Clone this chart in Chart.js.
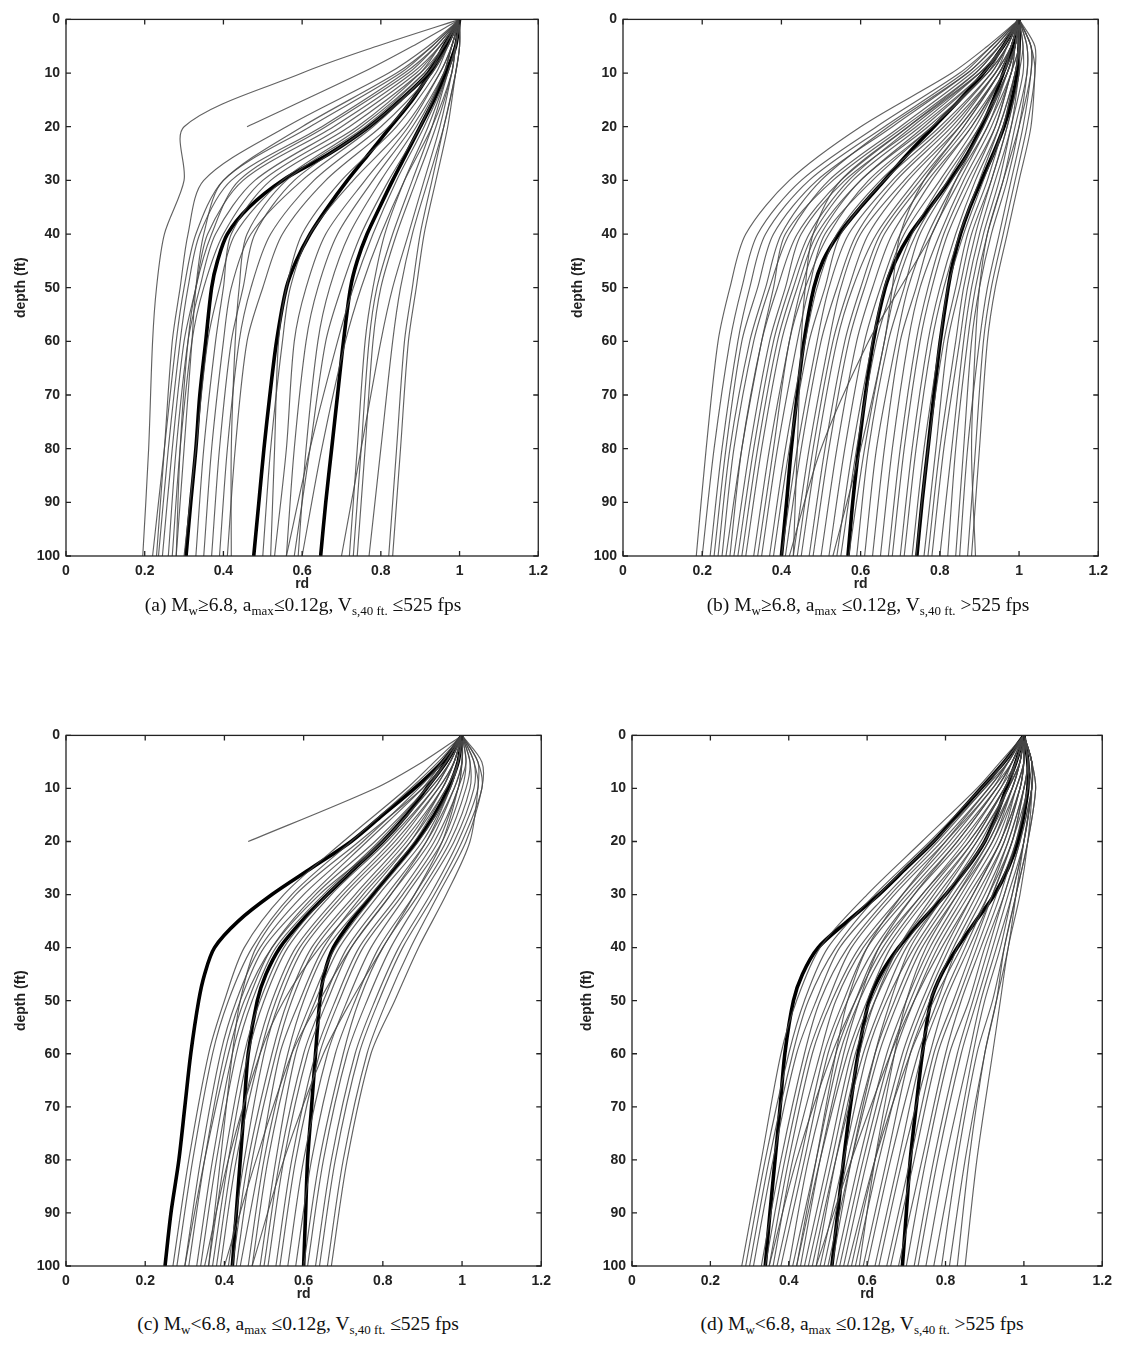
<!DOCTYPE html>
<html lang="en">
<head>
<meta charset="UTF-8">
<title>rd versus depth</title>
<script src="https://cdn.jsdelivr.net/npm/chart.js"></script>
<style>
  body { margin: 0; background: #fff; width: 1122px; height: 1350px; position: relative; overflow: hidden; }
  canvas { position: absolute; }
  .caption { position: absolute; font-family: "Liberation Serif", "Times New Roman", serif; font-size: 19.5px; color: #111;
             white-space: nowrap; transform: translateX(-50%); }
  .caption sub { font-size: 13px; vertical-align: -4px; line-height: 0; }
</style>
</head>
<body>
<canvas id="chartA"></canvas>
<canvas id="chartB"></canvas>
<canvas id="chartC"></canvas>
<canvas id="chartD"></canvas>
<div class="caption" style="left:303px; top:594px">(a) M<sub>w</sub>≥6.8, a<sub>max</sub>≤0.12g, V<sub>s,40 ft.</sub> ≤525 fps</div>
<div class="caption" style="left:868px; top:594px">(b) M<sub>w</sub>≥6.8, a<sub>max</sub> ≤0.12g, V<sub>s,40 ft.</sub> &gt;525 fps</div>
<div class="caption" style="left:298px; top:1313px">(c) M<sub>w</sub>&lt;6.8, a<sub>max</sub> ≤0.12g, V<sub>s,40 ft.</sub> ≤525 fps</div>
<div class="caption" style="left:862px; top:1313px">(d) M<sub>w</sub>&lt;6.8, a<sub>max</sub> ≤0.12g, V<sub>s,40 ft.</sub> &gt;525 fps</div>
<script>
// depth grids (ft) for the summary curves and for the individual site records
const depthFine = [0, 5, 10, 15, 20, 25, 30, 35, 40, 45, 50, 60, 70, 80, 90, 100];
const depthCoarse = [0, 5, 10, 20, 30, 40, 50, 60, 80, 100];

const rdTickValues = [0, 0.2, 0.4, 0.6, 0.8, 1, 1.2];
const rdTickLabels = ['0', '0.2', '0.4', '0.6', '0.8', '1', '1.2'];
const depthTickValues = [0, 10, 20, 30, 40, 50, 60, 70, 80, 90, 100];
const depthTickLabels = ['0', '10', '20', '30', '40', '50', '60', '70', '80', '90', '100'];

// ---- (a) Mw>=6.8, Vs,40ft <= 525 fps ----
const lowerA = [1, 0.96, 0.92, 0.85, 0.77, 0.67, 0.55, 0.465, 0.41, 0.385, 0.37, 0.355, 0.34, 0.33, 0.317, 0.305];
const meanA  = [1, 0.965, 0.925, 0.88, 0.825, 0.77, 0.715, 0.665, 0.62, 0.585, 0.56, 0.535, 0.518, 0.503, 0.49, 0.477];
const upperA = [1, 0.99, 0.965, 0.935, 0.9, 0.865, 0.83, 0.797, 0.765, 0.74, 0.723, 0.705, 0.69, 0.675, 0.66, 0.647];
const recordsA = [
  [1, 0.79, 0.6, 0.3, 0.3, 0.25, 0.23, 0.22, 0.21, 0.195],
  [1, 0.88, 0.75, 0.46, null, null, null, null, null, null],
  [1, 0.93, 0.84, 0.6, 0.4, 0.33, 0.3, 0.28, 0.25, 0.22],
  [1, 0.94, 0.86, 0.65, 0.42, 0.34, 0.31, 0.29, 0.26, 0.235],
  [1, 0.95, 0.88, 0.68, 0.45, 0.36, 0.33, 0.3, 0.27, 0.245],
  [1, 0.92, 0.82, 0.56, 0.35, 0.31, 0.29, 0.27, 0.25, 0.23],
  [1, 0.95, 0.89, 0.7, 0.48, 0.38, 0.34, 0.31, 0.28, 0.26],
  [1, 0.96, 0.9, 0.72, 0.5, 0.4, 0.35, 0.32, 0.29, 0.27],
  [1, 0.94, 0.87, 0.66, 0.44, 0.37, 0.33, 0.31, 0.29, 0.28],
  [1, 0.93, 0.85, 0.62, 0.4, 0.35, 0.33, 0.32, 0.3, 0.28],
  [1, 0.96, 0.91, 0.75, 0.55, 0.43, 0.39, 0.36, 0.33, 0.3],
  [1, 0.95, 0.9, 0.74, 0.52, 0.42, 0.4, 0.38, 0.35, 0.33],
  [1, 0.97, 0.92, 0.78, 0.6, 0.47, 0.42, 0.4, 0.37, 0.35],
  [1, 0.96, 0.92, 0.77, 0.58, 0.48, 0.45, 0.42, 0.39, 0.37],
  [1, 0.97, 0.93, 0.8, 0.63, 0.52, 0.47, 0.44, 0.41, 0.39],
  [1, 0.97, 0.93, 0.82, 0.66, 0.55, 0.5, 0.46, 0.43, 0.41],
  [1, 0.96, 0.91, 0.76, 0.56, 0.46, 0.44, 0.43, 0.42, 0.42],
  [1, 0.98, 0.95, 0.86, 0.73, 0.62, 0.57, 0.55, 0.52, 0.5],
  [1, 0.98, 0.95, 0.87, 0.76, 0.66, 0.61, 0.58, 0.56, 0.53],
  [1, 0.98, 0.96, 0.88, 0.78, 0.69, 0.64, 0.61, 0.58, 0.56],
  [1, 0.98, 0.96, 0.89, 0.8, 0.72, 0.67, 0.64, 0.61, 0.59],
  [1, 0.97, 0.94, 0.84, 0.7, 0.6, 0.56, 0.54, 0.53, 0.52],
  [1, 0.99, 0.97, 0.92, 0.86, 0.81, 0.78, 0.76, 0.74, 0.72],
  [1, 0.99, 0.98, 0.94, 0.89, 0.84, 0.8, 0.78, 0.76, 0.74],
  [1, 0.99, 0.97, 0.93, 0.88, 0.83, 0.79, 0.77, 0.75, 0.73],
  [1, 1, 0.99, 0.96, 0.92, 0.88, 0.85, 0.83, 0.8, 0.77],
  [1, 1, 0.99, 0.96, 0.93, 0.9, 0.88, 0.86, 0.84, 0.82],
  [1, 1, 0.99, 0.97, 0.94, 0.91, 0.89, 0.87, 0.85, 0.83],
  [1, 0.99, 0.98, 0.95, 0.91, 0.87, 0.83, 0.8, 0.75, 0.7],
  [1, 0.98, 0.96, 0.9, 0.82, 0.75, 0.7, 0.66, 0.62, 0.58],
  [1, 0.99, 0.97, 0.91, 0.84, 0.78, 0.73, 0.69, 0.62, 0.56],
  [1, 0.99, 0.98, 0.93, 0.86, 0.8, 0.75, 0.71, 0.65, 0.6]
];

// ---- (b) Mw>=6.8, Vs,40ft > 525 fps ----
const lowerB = [1, 0.96, 0.91, 0.85, 0.785, 0.72, 0.66, 0.6, 0.545, 0.505, 0.482, 0.457, 0.44, 0.425, 0.413, 0.4];
const meanB  = [1, 0.985, 0.96, 0.935, 0.905, 0.87, 0.825, 0.775, 0.725, 0.688, 0.662, 0.632, 0.612, 0.595, 0.58, 0.568];
const upperB = [1, 1, 0.995, 0.982, 0.962, 0.935, 0.905, 0.876, 0.852, 0.834, 0.821, 0.801, 0.785, 0.77, 0.755, 0.742];
const recordsB = [
  [1, 0.92, 0.83, 0.6, 0.42, 0.31, 0.27, 0.24, 0.21, 0.185],
  [1, 0.93, 0.85, 0.64, 0.45, 0.34, 0.3, 0.27, 0.23, 0.2],
  [1, 0.93, 0.86, 0.66, 0.47, 0.36, 0.32, 0.29, 0.25, 0.22],
  [1, 0.94, 0.87, 0.68, 0.49, 0.38, 0.34, 0.3, 0.26, 0.23],
  [1, 0.94, 0.87, 0.67, 0.5, 0.4, 0.36, 0.32, 0.27, 0.24],
  [1, 0.95, 0.88, 0.7, 0.52, 0.42, 0.37, 0.33, 0.28, 0.25],
  [1, 0.95, 0.89, 0.71, 0.53, 0.41, 0.38, 0.35, 0.3, 0.26],
  [1, 0.95, 0.89, 0.72, 0.55, 0.44, 0.39, 0.35, 0.3, 0.27],
  [1, 0.96, 0.9, 0.74, 0.56, 0.45, 0.41, 0.37, 0.32, 0.28],
  [1, 0.96, 0.9, 0.73, 0.57, 0.47, 0.42, 0.38, 0.33, 0.29],
  [1, 0.96, 0.91, 0.75, 0.58, 0.48, 0.43, 0.39, 0.34, 0.3],
  [1, 0.96, 0.91, 0.76, 0.6, 0.49, 0.44, 0.4, 0.35, 0.31],
  [1, 0.97, 0.92, 0.77, 0.6, 0.5, 0.45, 0.42, 0.37, 0.33],
  [1, 0.96, 0.92, 0.78, 0.62, 0.52, 0.46, 0.42, 0.38, 0.34],
  [1, 0.97, 0.92, 0.78, 0.63, 0.51, 0.47, 0.44, 0.39, 0.35],
  [1, 0.97, 0.93, 0.8, 0.65, 0.54, 0.49, 0.46, 0.41, 0.37],
  [1, 0.97, 0.93, 0.81, 0.66, 0.55, 0.51, 0.47, 0.42, 0.38],
  [1, 0.97, 0.94, 0.82, 0.68, 0.57, 0.52, 0.49, 0.44, 0.4],
  [1, 0.98, 0.94, 0.83, 0.69, 0.59, 0.54, 0.5, 0.45, 0.41],
  [1, 0.98, 0.94, 0.84, 0.71, 0.6, 0.55, 0.52, 0.47, 0.43],
  [1, 0.98, 0.95, 0.85, 0.72, 0.62, 0.57, 0.53, 0.48, 0.44],
  [1, 0.98, 0.95, 0.85, 0.74, 0.64, 0.58, 0.54, 0.49, 0.45],
  [1, 0.98, 0.95, 0.86, 0.75, 0.65, 0.6, 0.56, 0.51, 0.47],
  [1, 0.98, 0.96, 0.87, 0.76, 0.66, 0.61, 0.57, 0.52, 0.48],
  [1, 0.98, 0.96, 0.88, 0.77, 0.68, 0.63, 0.59, 0.54, 0.5],
  [1, 0.99, 0.96, 0.88, 0.78, 0.7, 0.65, 0.61, 0.56, 0.52],
  [1, 0.99, 0.96, 0.89, 0.8, 0.71, 0.66, 0.63, 0.58, 0.54],
  [1, 0.99, 0.97, 0.9, 0.81, 0.73, 0.68, 0.64, 0.59, 0.55],
  [1, 0.99, 0.97, 0.9, 0.82, 0.74, 0.69, 0.66, 0.61, 0.57],
  [1, 0.99, 0.97, 0.91, 0.83, 0.75, 0.71, 0.67, 0.62, 0.59],
  [1, 0.99, 0.97, 0.92, 0.84, 0.77, 0.72, 0.69, 0.64, 0.61],
  [1, 0.99, 0.98, 0.92, 0.85, 0.78, 0.74, 0.7, 0.66, 0.63],
  [1, 0.99, 0.98, 0.93, 0.86, 0.8, 0.75, 0.72, 0.68, 0.65],
  [1, 1, 0.98, 0.94, 0.87, 0.81, 0.77, 0.74, 0.7, 0.67],
  [1, 1, 0.98, 0.94, 0.88, 0.82, 0.78, 0.75, 0.71, 0.68],
  [1, 1, 0.99, 0.95, 0.89, 0.84, 0.8, 0.77, 0.73, 0.7],
  [1, 1, 0.99, 0.95, 0.9, 0.85, 0.81, 0.78, 0.74, 0.71],
  [1, 1, 0.99, 0.96, 0.91, 0.86, 0.82, 0.8, 0.76, 0.73],
  [1, 1, 0.99, 0.96, 0.92, 0.87, 0.84, 0.81, 0.77, 0.74],
  [1, 1, 1, 0.97, 0.93, 0.88, 0.85, 0.82, 0.79, 0.76],
  [1, 1, 1, 0.97, 0.93, 0.89, 0.86, 0.84, 0.8, 0.77],
  [1, 1.01, 1, 0.98, 0.94, 0.9, 0.87, 0.85, 0.81, 0.78],
  [1, 1.01, 1.01, 0.98, 0.95, 0.91, 0.88, 0.86, 0.83, 0.8],
  [1, 1.02, 1.02, 0.99, 0.96, 0.92, 0.89, 0.87, 0.84, 0.82],
  [1, 1.02, 1.02, 1, 0.97, 0.93, 0.9, 0.88, 0.86, 0.84],
  [1, 1.03, 1.03, 1.01, 0.98, 0.95, 0.92, 0.9, 0.87, 0.85],
  [1, 1.03, 1.04, 1.02, 0.99, 0.96, 0.93, 0.91, 0.89, 0.87],
  [1, 1.04, 1.04, 1.03, 1, 0.97, 0.94, 0.92, 0.9, 0.88],
  [1, 1.03, 1.03, 1, 0.96, 0.92, 0.9, 0.89, 0.88, 0.89],
  [1, 0.96, 0.9, 0.72, 0.55, 0.48, 0.46, 0.45, 0.44, 0.43],
  [1, 0.98, 0.95, 0.86, 0.76, 0.7, 0.68, 0.66, 0.6, 0.53],
  [1, 0.99, 0.97, 0.91, 0.84, 0.78, 0.7, 0.62, 0.5, 0.42]
];

// ---- (c) Mw<6.8, Vs,40ft <= 525 fps ----
const lowerC = [1, 0.95, 0.88, 0.8, 0.72, 0.62, 0.52, 0.435, 0.375, 0.35, 0.335, 0.315, 0.3, 0.285, 0.265, 0.25];
const meanC  = [1, 0.96, 0.91, 0.86, 0.8, 0.73, 0.66, 0.595, 0.54, 0.505, 0.483, 0.46, 0.45, 0.44, 0.43, 0.42];
const upperC = [1, 0.99, 0.965, 0.93, 0.885, 0.83, 0.775, 0.72, 0.675, 0.652, 0.641, 0.63, 0.62, 0.61, 0.605, 0.6];
const recordsC = [
  [1, 0.93, 0.86, 0.7, 0.55, 0.45, 0.4, 0.36, 0.31, 0.27],
  [1, 0.94, 0.87, 0.72, 0.57, 0.47, 0.41, 0.37, 0.32, 0.28],
  [1, 0.95, 0.89, 0.75, 0.6, 0.49, 0.43, 0.39, 0.34, 0.3],
  [1, 0.95, 0.9, 0.76, 0.62, 0.5, 0.44, 0.4, 0.35, 0.31],
  [1, 0.96, 0.91, 0.78, 0.63, 0.52, 0.46, 0.42, 0.37, 0.33],
  [1, 0.96, 0.91, 0.79, 0.65, 0.53, 0.47, 0.43, 0.38, 0.34],
  [1, 0.97, 0.92, 0.8, 0.66, 0.55, 0.49, 0.45, 0.4, 0.36],
  [1, 0.97, 0.93, 0.81, 0.67, 0.56, 0.5, 0.46, 0.41, 0.37],
  [1, 0.97, 0.93, 0.82, 0.69, 0.58, 0.52, 0.48, 0.42, 0.38],
  [1, 0.98, 0.94, 0.83, 0.7, 0.59, 0.53, 0.49, 0.43, 0.39],
  [1, 0.98, 0.94, 0.84, 0.71, 0.6, 0.54, 0.5, 0.45, 0.41],
  [1, 0.98, 0.95, 0.85, 0.73, 0.62, 0.56, 0.52, 0.46, 0.42],
  [1, 0.98, 0.95, 0.86, 0.74, 0.63, 0.57, 0.53, 0.47, 0.43],
  [1, 0.99, 0.96, 0.87, 0.75, 0.65, 0.59, 0.54, 0.49, 0.44],
  [1, 0.99, 0.96, 0.88, 0.77, 0.66, 0.6, 0.56, 0.5, 0.46],
  [1, 0.99, 0.97, 0.89, 0.78, 0.68, 0.62, 0.57, 0.51, 0.47],
  [1, 0.99, 0.97, 0.9, 0.79, 0.69, 0.63, 0.58, 0.53, 0.49],
  [1, 1, 0.98, 0.91, 0.81, 0.71, 0.65, 0.6, 0.54, 0.5],
  [1, 1, 0.98, 0.92, 0.82, 0.72, 0.66, 0.61, 0.55, 0.51],
  [1, 1, 0.99, 0.93, 0.84, 0.74, 0.68, 0.63, 0.57, 0.53],
  [1, 1.01, 0.99, 0.94, 0.85, 0.75, 0.69, 0.64, 0.58, 0.54],
  [1, 1.01, 1, 0.95, 0.86, 0.77, 0.71, 0.66, 0.6, 0.56],
  [1, 1.02, 1.01, 0.96, 0.88, 0.79, 0.73, 0.68, 0.62, 0.58],
  [1, 1.02, 1.02, 0.97, 0.89, 0.8, 0.74, 0.7, 0.64, 0.6],
  [1, 1.03, 1.03, 0.98, 0.9, 0.82, 0.76, 0.71, 0.65, 0.61],
  [1, 1.03, 1.04, 0.99, 0.92, 0.84, 0.78, 0.73, 0.67, 0.63],
  [1, 1.04, 1.05, 1, 0.93, 0.85, 0.79, 0.74, 0.68, 0.64],
  [1, 1.05, 1.05, 1.01, 0.94, 0.87, 0.81, 0.76, 0.7, 0.66],
  [1, 1.04, 1.04, 1.02, 0.96, 0.89, 0.83, 0.77, 0.71, 0.67],
  [1, 0.96, 0.9, 0.74, 0.58, 0.48, 0.44, 0.42, 0.39, 0.36],
  [1, 0.97, 0.92, 0.8, 0.64, 0.52, 0.45, 0.41, 0.35, 0.3],
  [1, 0.98, 0.95, 0.87, 0.76, 0.64, 0.55, 0.49, 0.41, 0.35],
  [1, 0.99, 0.97, 0.91, 0.82, 0.72, 0.64, 0.57, 0.48, 0.4],
  [1, 1, 0.99, 0.95, 0.88, 0.8, 0.72, 0.65, 0.55, 0.47],
  [1, 0.9, 0.78, 0.46, null, null, null, null, null, null]
];

// ---- (d) Mw<6.8, Vs,40ft > 525 fps ----
const lowerD = [1, 0.95, 0.89, 0.83, 0.77, 0.7, 0.63, 0.55, 0.475, 0.435, 0.412, 0.39, 0.378, 0.365, 0.352, 0.34];
const meanD  = [1, 0.98, 0.955, 0.93, 0.9, 0.855, 0.8, 0.738, 0.68, 0.635, 0.605, 0.577, 0.557, 0.54, 0.525, 0.51];
const upperD = [1, 1.01, 1.01, 1, 0.985, 0.96, 0.925, 0.877, 0.83, 0.79, 0.763, 0.741, 0.725, 0.71, 0.7, 0.69];
const recordsD = [
  [1, 0.94, 0.88, 0.74, 0.6, 0.48, 0.42, 0.38, 0.33, 0.28],
  [1, 0.95, 0.89, 0.76, 0.62, 0.5, 0.44, 0.4, 0.34, 0.29],
  [1, 0.95, 0.9, 0.77, 0.63, 0.52, 0.45, 0.41, 0.35, 0.3],
  [1, 0.96, 0.9, 0.78, 0.65, 0.53, 0.47, 0.42, 0.36, 0.31],
  [1, 0.96, 0.91, 0.79, 0.66, 0.55, 0.48, 0.44, 0.38, 0.33],
  [1, 0.96, 0.92, 0.8, 0.67, 0.56, 0.5, 0.45, 0.39, 0.34],
  [1, 0.97, 0.92, 0.81, 0.69, 0.58, 0.51, 0.46, 0.4, 0.35],
  [1, 0.97, 0.93, 0.82, 0.7, 0.59, 0.52, 0.48, 0.41, 0.36],
  [1, 0.97, 0.93, 0.83, 0.71, 0.6, 0.54, 0.49, 0.43, 0.37],
  [1, 0.97, 0.94, 0.84, 0.72, 0.62, 0.55, 0.5, 0.44, 0.38],
  [1, 0.98, 0.94, 0.85, 0.74, 0.63, 0.57, 0.52, 0.45, 0.4],
  [1, 0.98, 0.95, 0.86, 0.75, 0.65, 0.58, 0.53, 0.47, 0.41],
  [1, 0.98, 0.95, 0.87, 0.76, 0.66, 0.6, 0.55, 0.48, 0.42],
  [1, 0.98, 0.96, 0.88, 0.78, 0.68, 0.61, 0.56, 0.5, 0.44],
  [1, 0.99, 0.96, 0.88, 0.79, 0.69, 0.62, 0.57, 0.51, 0.45],
  [1, 0.99, 0.96, 0.89, 0.8, 0.7, 0.64, 0.59, 0.52, 0.46],
  [1, 0.99, 0.97, 0.9, 0.81, 0.72, 0.65, 0.6, 0.54, 0.48],
  [1, 0.99, 0.97, 0.91, 0.82, 0.73, 0.67, 0.62, 0.55, 0.49],
  [1, 0.99, 0.97, 0.92, 0.83, 0.74, 0.68, 0.63, 0.56, 0.5],
  [1, 1, 0.98, 0.92, 0.84, 0.76, 0.7, 0.65, 0.58, 0.52],
  [1, 1, 0.98, 0.93, 0.85, 0.77, 0.71, 0.66, 0.59, 0.53],
  [1, 1, 0.98, 0.94, 0.86, 0.78, 0.72, 0.67, 0.6, 0.54],
  [1, 1, 0.99, 0.94, 0.87, 0.8, 0.74, 0.69, 0.62, 0.56],
  [1, 1, 0.99, 0.95, 0.88, 0.81, 0.75, 0.7, 0.63, 0.57],
  [1, 1, 0.99, 0.95, 0.89, 0.82, 0.76, 0.71, 0.65, 0.59],
  [1, 1.01, 1, 0.96, 0.9, 0.83, 0.78, 0.73, 0.66, 0.6],
  [1, 1.01, 1, 0.96, 0.91, 0.85, 0.79, 0.74, 0.68, 0.62],
  [1, 1.01, 1, 0.97, 0.92, 0.86, 0.8, 0.76, 0.69, 0.63],
  [1, 1.01, 1.01, 0.97, 0.92, 0.87, 0.82, 0.77, 0.71, 0.65],
  [1, 1.01, 1.01, 0.98, 0.93, 0.88, 0.83, 0.78, 0.72, 0.66],
  [1, 1.02, 1.01, 0.98, 0.94, 0.89, 0.84, 0.8, 0.74, 0.68],
  [1, 1.02, 1.02, 0.99, 0.95, 0.9, 0.86, 0.81, 0.75, 0.7],
  [1, 1.02, 1.02, 0.99, 0.95, 0.91, 0.87, 0.83, 0.77, 0.72],
  [1, 1.02, 1.02, 1, 0.96, 0.92, 0.88, 0.84, 0.78, 0.73],
  [1, 1.02, 1.02, 1, 0.97, 0.93, 0.89, 0.86, 0.8, 0.75],
  [1, 1.02, 1.02, 1, 0.97, 0.94, 0.9, 0.87, 0.82, 0.77],
  [1, 1.02, 1.03, 1.01, 0.98, 0.95, 0.92, 0.88, 0.83, 0.79],
  [1, 1.02, 1.03, 1.01, 0.98, 0.95, 0.93, 0.9, 0.85, 0.81],
  [1, 1.02, 1.02, 1, 0.98, 0.96, 0.93, 0.9, 0.86, 0.83],
  [1, 1.01, 1.02, 1.01, 0.99, 0.96, 0.94, 0.92, 0.88, 0.85],
  [1, 0.98, 0.95, 0.87, 0.77, 0.68, 0.62, 0.58, 0.52, 0.47],
  [1, 0.99, 0.96, 0.9, 0.8, 0.71, 0.66, 0.62, 0.56, 0.51],
  [1, 0.97, 0.93, 0.83, 0.72, 0.63, 0.58, 0.54, 0.48, 0.43],
  [1, 0.98, 0.95, 0.86, 0.74, 0.64, 0.57, 0.51, 0.42, 0.35],
  [1, 0.99, 0.97, 0.91, 0.83, 0.75, 0.7, 0.67, 0.62, 0.58],
  [1, 1, 0.99, 0.94, 0.87, 0.79, 0.72, 0.66, 0.56, 0.47],
  [1, 0.96, 0.91, 0.8, 0.69, 0.6, 0.55, 0.52, 0.47, 0.42],
  [1, 1.01, 1, 0.97, 0.91, 0.84, 0.77, 0.71, 0.62, 0.55]
];

// plot-area boxes on the page: left, top, right, bottom
const boxes = {
  chartA: [66, 15, 543, 556],
  chartB: [623, 15, 1103, 556],
  chartC: [66, 731, 546, 1266],
  chartD: [632, 731, 1107, 1266]
};
const AXIS_W = 56, AXIS_H = 40, PAD_TOP = 10, PAD_RIGHT = 12;

const tickFont = { family: 'Liberation Sans, Arial, sans-serif', size: 14, weight: 'bold' };

// box with inward tick marks on all four sides
const frame = {
  id: 'frame',
  afterDraw(chart) {
    const { ctx, chartArea: a, scales: { x, y } } = chart;
    ctx.save();
    ctx.strokeStyle = '#222';
    ctx.lineWidth = 1.3;
    ctx.strokeRect(a.left, a.top, a.right - a.left, a.bottom - a.top);
    ctx.beginPath();
    x.ticks.forEach(t => {
      const px = x.getPixelForValue(t.value);
      ctx.moveTo(px, a.bottom); ctx.lineTo(px, a.bottom - 5);
      ctx.moveTo(px, a.top); ctx.lineTo(px, a.top + 5);
    });
    y.ticks.forEach(t => {
      const py = y.getPixelForValue(t.value);
      ctx.moveTo(a.left, py); ctx.lineTo(a.left + 5, py);
      ctx.moveTo(a.right, py); ctx.lineTo(a.right - 5, py);
    });
    ctx.stroke();
    ctx.restore();
  }
};

function toPoints(depths, values) {
  const pts = [];
  values.forEach((v, i) => { if (v !== null) pts.push({ x: v, y: depths[i] }); });
  return pts;
}

function drawPanel(id, records, lower, mean, upper) {
  const [l, t, r, b] = boxes[id];
  const canvas = document.getElementById(id);
  canvas.width = (r - l) + AXIS_W + PAD_RIGHT;
  canvas.height = (b - t) + PAD_TOP + AXIS_H;
  canvas.style.left = (l - AXIS_W) + 'px';
  canvas.style.top = (t - PAD_TOP) + 'px';

  const datasets = records.map(rec => ({
    data: toPoints(depthCoarse, rec),
    borderColor: 'rgba(70,70,70,0.85)',
    borderWidth: 1.15,
    tension: 0.3
  }));
  [lower, mean, upper].forEach(curve => datasets.push({
    data: toPoints(depthFine, curve),
    borderColor: '#000',
    borderWidth: 3.6,
    tension: 0.3
  }));

  new Chart(canvas, {
    type: 'scatter',
    data: { datasets },
    options: {
      responsive: false,
      animation: false,
      devicePixelRatio: 1,
      events: [],
      showLine: true,
      elements: { point: { radius: 0 } },
      layout: { padding: { left: 0, top: PAD_TOP, right: PAD_RIGHT, bottom: 0 } },
      plugins: { legend: { display: false }, tooltip: { enabled: false } },
      scales: {
        x: {
          type: 'linear', min: 0, max: 1.2,
          afterBuildTicks: s => { s.ticks = rdTickValues.map(v => ({ value: v })); },
          afterFit: s => { s.height = AXIS_H; },
          grid: { display: false, drawTicks: false },
          border: { display: false },
          ticks: { padding: 7, color: '#222', font: tickFont, maxRotation: 0, autoSkip: false,
                   callback: (v, i) => rdTickLabels[i] },
          title: { display: true, text: 'rd', color: '#222', font: tickFont, padding: { top: 0, bottom: 3 } }
        },
        y: {
          type: 'linear', min: 0, max: 100, reverse: true,
          afterBuildTicks: s => { s.ticks = depthTickValues.map(v => ({ value: v })); },
          afterFit: s => { s.width = AXIS_W; },
          grid: { display: false, drawTicks: false },
          border: { display: false },
          ticks: { padding: 6, color: '#222', font: tickFont, autoSkip: false,
                   callback: (v, i) => depthTickLabels[i] },
          title: { display: true, text: 'depth (ft)', color: '#222', font: tickFont, padding: { top: 3, bottom: 0 } }
        }
      }
    },
    plugins: [frame]
  });
}

drawPanel('chartA', recordsA, lowerA, meanA, upperA);
drawPanel('chartB', recordsB, lowerB, meanB, upperB);
drawPanel('chartC', recordsC, lowerC, meanC, upperC);
drawPanel('chartD', recordsD, lowerD, meanD, upperD);
</script>
</body>
</html>
